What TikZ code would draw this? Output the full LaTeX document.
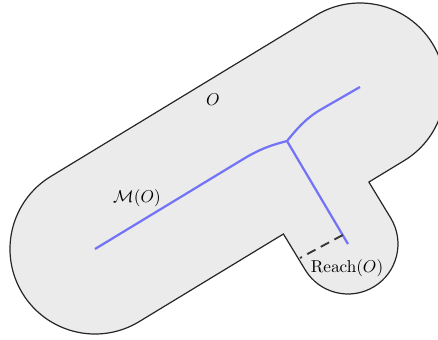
\documentclass[tikz,border=0pt]{standalone}
\usetikzlibrary{calc}
\definecolor{shapefill}{RGB}{235,235,235}
\definecolor{axisblue}{RGB}{115,115,248}
\definecolor{reachgray}{RGB}{55,55,55}
\tikzset{
  shapeline/.style={draw=black!85, line width=0.7pt, fill=shapefill},
  axisline/.style={draw=axisblue, line width=1.3pt},
  reachline/.style={draw=reachgray, line width=1.1pt, dash pattern=on 5.5pt off 3.5pt},
  lbl/.style={inner sep=0pt, font=\normalsize}
}
\begin{document}
\begin{tikzpicture}[x=0.583pt, y=-0.583pt]
\useasboundingbox (0,0) rectangle (438,339);
\begin{scope}
\clip (0,0) rectangle (438,339);
% the set O: union of a capsule and a lobe
\path[shapeline]
  (50.87,176.36) -- (315.87,15.36)
  arc[start angle=-121.28, end angle=58.72, radius=85]
  -- (368.88,182.07) -- (390.73,218.04)
  arc[start angle=-31.28, end angle=148.72, radius=50]
  -- (283.42,233.99) -- (139.13,321.64)
  arc[start angle=58.72, end angle=238.72, radius=85]
  -- cycle;
\end{scope}
% medial axis
\coordinate (a) at (95,249);
\coordinate (k) at (245,158);
\coordinate (j) at (287,141);
\coordinate (m) at (320,110);
\coordinate (b) at (360,87);
\coordinate (e) at (348,244);
\draw[axisline, line join=round] (a) -- (k) .. controls (262,148) and (272,145) .. (j)
  .. controls (296,130) and (305,119) .. (m) -- (b);
\draw[axisline] (j) -- (e);
% reach
\coordinate (r1) at ($(j)!0.913!(e)$);
\coordinate (r2) at (300,258);
\draw[reachline] (r1) -- (r2);
% labels
\node[lbl] (O) at (213,100) {$O$};
\node[lbl] (MO) at (137,198) {$\mathcal{M}(O)$};
\node[lbl] (R) at (347,268) {$\mathrm{Reach}(O)$};
\end{tikzpicture}
\end{document}
